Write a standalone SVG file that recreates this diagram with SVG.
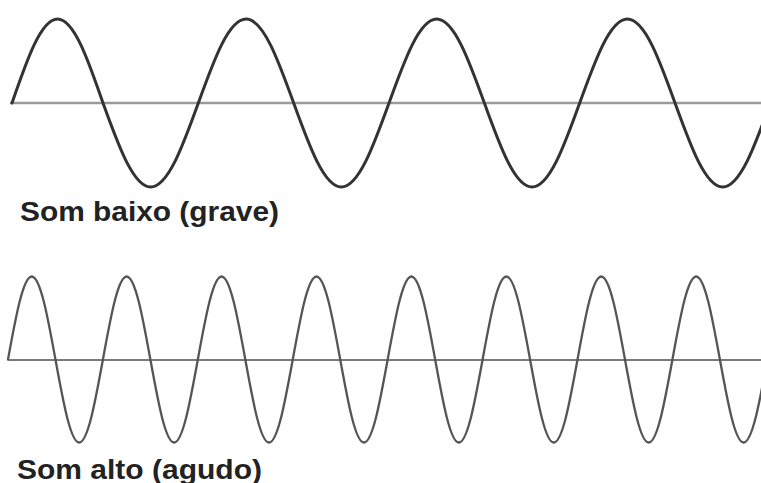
<svg xmlns="http://www.w3.org/2000/svg" width="761" height="483" viewBox="0 0 761 483">
  <style>
    .axis { fill: none; stroke-linecap: butt; }
    .wave { fill: none; stroke-linejoin: round; stroke-linecap: round; }
    .label { font-family: "Liberation Sans", Arial, sans-serif; font-weight: bold; font-size: 28px; fill: #222; }
  </style>
  <rect width="761" height="483" fill="#ffffff"/>
  <g id="low-sound">
    <line class="axis" x1="10" y1="103" x2="761" y2="103" stroke="#9a9a9a" stroke-width="2.5"/>
    <path class="wave" stroke="#333" stroke-width="3"
      d="M12,103
         c14.84,-43.03 29.03,-84 45.5,-84 c16.47,0 30.66,40.97 45.5,84
         c15.54,43.03 30.42,84 47.67,84 c17.25,0 32.12,-40.97 47.67,-84
         c15.54,-43.03 30.42,-84 47.67,-84 c17.25,0 32.12,40.97 47.67,84
         c15.54,43.03 30.42,84 47.67,84 c17.25,0 32.12,-40.97 47.67,-84
         c15.54,-43.03 30.42,-84 47.67,-84 c17.25,0 32.12,40.97 47.67,84
         c15.54,43.03 30.42,84 47.67,84 c17.25,0 32.12,-40.97 47.67,-84
         c15.54,-43.03 30.42,-84 47.67,-84 c17.25,0 32.12,40.97 47.67,84
         c15.54,43.03 30.42,84 47.67,84 c17.25,0 32.12,-40.97 47.67,-84"/>
    <text class="label" x="20" y="221" textLength="259" lengthAdjust="spacingAndGlyphs">Som baixo (grave)</text>
  </g>
  <g id="high-sound">
    <line class="axis" x1="8" y1="360" x2="761" y2="360" stroke="#7a7a7a" stroke-width="2"/>
    <path class="wave" stroke="#555" stroke-width="2.3"
      d="M8,359.5
         c7.74,-42.52 15.14,-83 23.73,-83 c8.59,0 15.99,40.48 23.73,83
         c7.74,42.52 15.14,83 23.73,83 c8.59,0 15.99,-40.48 23.73,-83
         c7.74,-42.52 15.14,-83 23.73,-83 c8.59,0 15.99,40.48 23.73,83
         c7.74,42.52 15.14,83 23.73,83 c8.59,0 15.99,-40.48 23.73,-83
         c7.74,-42.52 15.14,-83 23.73,-83 c8.59,0 15.99,40.48 23.73,83
         c7.74,42.52 15.14,83 23.73,83 c8.59,0 15.99,-40.48 23.73,-83
         c7.74,-42.52 15.14,-83 23.73,-83 c8.59,0 15.99,40.48 23.73,83
         c7.74,42.52 15.14,83 23.73,83 c8.59,0 15.99,-40.48 23.73,-83
         c7.74,-42.52 15.14,-83 23.73,-83 c8.59,0 15.99,40.48 23.73,83
         c7.74,42.52 15.14,83 23.73,83 c8.59,0 15.99,-40.48 23.73,-83
         c7.74,-42.52 15.14,-83 23.73,-83 c8.59,0 15.99,40.48 23.73,83
         c7.74,42.52 15.14,83 23.73,83 c8.59,0 15.99,-40.48 23.73,-83
         c7.74,-42.52 15.14,-83 23.73,-83 c8.59,0 15.99,40.48 23.73,83
         c7.74,42.52 15.14,83 23.73,83 c8.59,0 15.99,-40.48 23.73,-83
         c7.74,-42.52 15.14,-83 23.73,-83 c8.59,0 15.99,40.48 23.73,83
         c7.74,42.52 15.14,83 23.73,83 c8.59,0 15.99,-40.48 23.73,-83"/>
    <text class="label" x="17" y="479" textLength="245" lengthAdjust="spacingAndGlyphs">Som alto (agudo)</text>
  </g>
</svg>
